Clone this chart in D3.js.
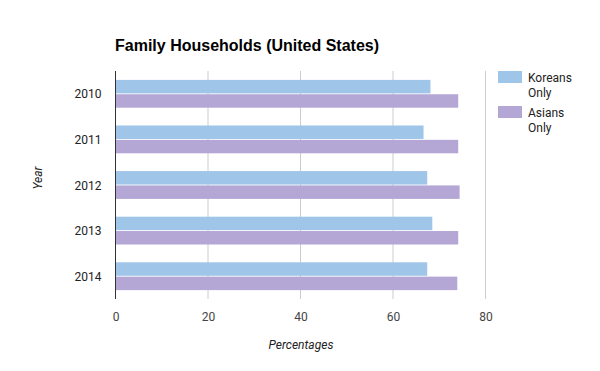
<!DOCTYPE html>
<html>
<head>
<meta charset="utf-8">
<script src="https://cdn.jsdelivr.net/npm/d3@7"></script>
<style>
  body { margin: 0; background: #fff; }
  text { font-family: Roboto, Arial, sans-serif; }
  .title { font-family: Arial, "Liberation Sans", sans-serif; }
</style>
</head>
<body>
<svg id="chart" width="600" height="371"></svg>
<script>
// values
const years = ["2010", "2011", "2012", "2013", "2014"]
const series = ["Koreans Only", "Asians Only"]
const koreans = [68.1, 66.6, 67.4, 68.5, 67.4]
const asians = [74.1, 74.1, 74.4, 74.1, 73.9]
const xTicks = [0, 20, 40, 60, 80]
const colours = ["#9fc5e8", "#b4a7d6"]

const svg = d3.select("#chart")
const margin = {left: 115.5, right: 114.5, top: 71, bottom: 72}
const width = 600 - margin.left - margin.right,
      height = 371 - margin.top - margin.bottom

const rows = years.map((y, i) => ({year: y, values: [koreans[i], asians[i]]}))

const x = d3.scaleLinear().domain([0, 80]).range([0, width])
const y0 = d3.scaleBand().domain(years).range([0, height])
             .paddingInner(0.39).paddingOuter(0.195)
const y1 = d3.scaleBand().domain(d3.range(series.length)).range([0, y0.bandwidth()])
             .paddingInner(0.06)

const g = svg.append("g").attr("transform", "translate(" + margin.left + "," + margin.top + ")")

// title
svg.append("text")
   .attr("class", "title")
   .attr("x", 115).attr("y", 51)
   .style("font-size", "16px").style("font-weight", "bold").attr("fill", "#000")
   .text("Family Households (United States)")

// gridlines
g.selectAll(".grid")
 .data(xTicks.slice(1))
 .join("line")
 .attr("x1", d => x(d)).attr("x2", d => x(d))
 .attr("y1", 0).attr("y2", height)
 .attr("stroke", "#cccccc").attr("stroke-width", 1)

// bars
const groups = g.selectAll(".grp")
  .data(rows)
  .join("g")
  .attr("transform", d => "translate(0," + y0(d.year) + ")")

groups.selectAll("rect")
  .data(d => d.values)
  .join("rect")
  .attr("x", 0)
  .attr("y", (d, i) => y1(i))
  .attr("width", d => x(d))
  .attr("height", y1.bandwidth())
  .attr("fill", (d, i) => colours[i])

// baseline axis
g.append("line")
 .attr("x1", 0).attr("x2", 0).attr("y1", 0).attr("y2", height)
 .attr("stroke", "#333").attr("stroke-width", 1)

// x tick labels
const xAxis = g.append("g")
  .attr("transform", "translate(0," + height + ")")
  .call(d3.axisBottom(x).tickValues(xTicks).tickSize(0).tickPadding(13))
xAxis.select(".domain").remove()
xAxis.selectAll("text").style("font-size", "12px").style("font-family", "Roboto, Arial, sans-serif").attr("fill", "#444")

// y tick labels
const yAxis = g.append("g")
  .call(d3.axisLeft(y0).tickSize(0).tickPadding(14))
yAxis.select(".domain").remove()
yAxis.selectAll("text").attr("dy", "0.38em").style("font-size", "12px").style("font-family", "Roboto, Arial, sans-serif").attr("fill", "#222")

// axis titles
svg.append("text")
   .attr("x", 301).attr("y", 349)
   .attr("text-anchor", "middle")
   .style("font-size", "12px").style("font-style", "italic").attr("fill", "#222")
   .text("Percentages")

svg.append("text")
   .attr("transform", "translate(42,178) rotate(-90)")
   .attr("text-anchor", "middle")
   .style("font-size", "12px").style("font-style", "italic").attr("fill", "#222")
   .text("Year")

// legend
const legend = svg.append("g").attr("transform", "translate(498,71)")
const item = legend.selectAll("g")
  .data(series)
  .join("g")
  .attr("transform", (d, i) => "translate(0," + i * 35 + ")")
item.append("rect")
    .attr("width", 24).attr("height", 12)
    .attr("fill", (d, i) => colours[i])
item.append("text")
    .attr("x", 30).attr("y", 11)
    .style("font-size", "12px").attr("fill", "#222")
    .selectAll("tspan")
    .data(d => d.split(" "))
    .join("tspan")
    .attr("x", 30)
    .attr("dy", (d, i) => i ? 15 : 0)
    .text(d => d)
</script>
</body>
</html>
